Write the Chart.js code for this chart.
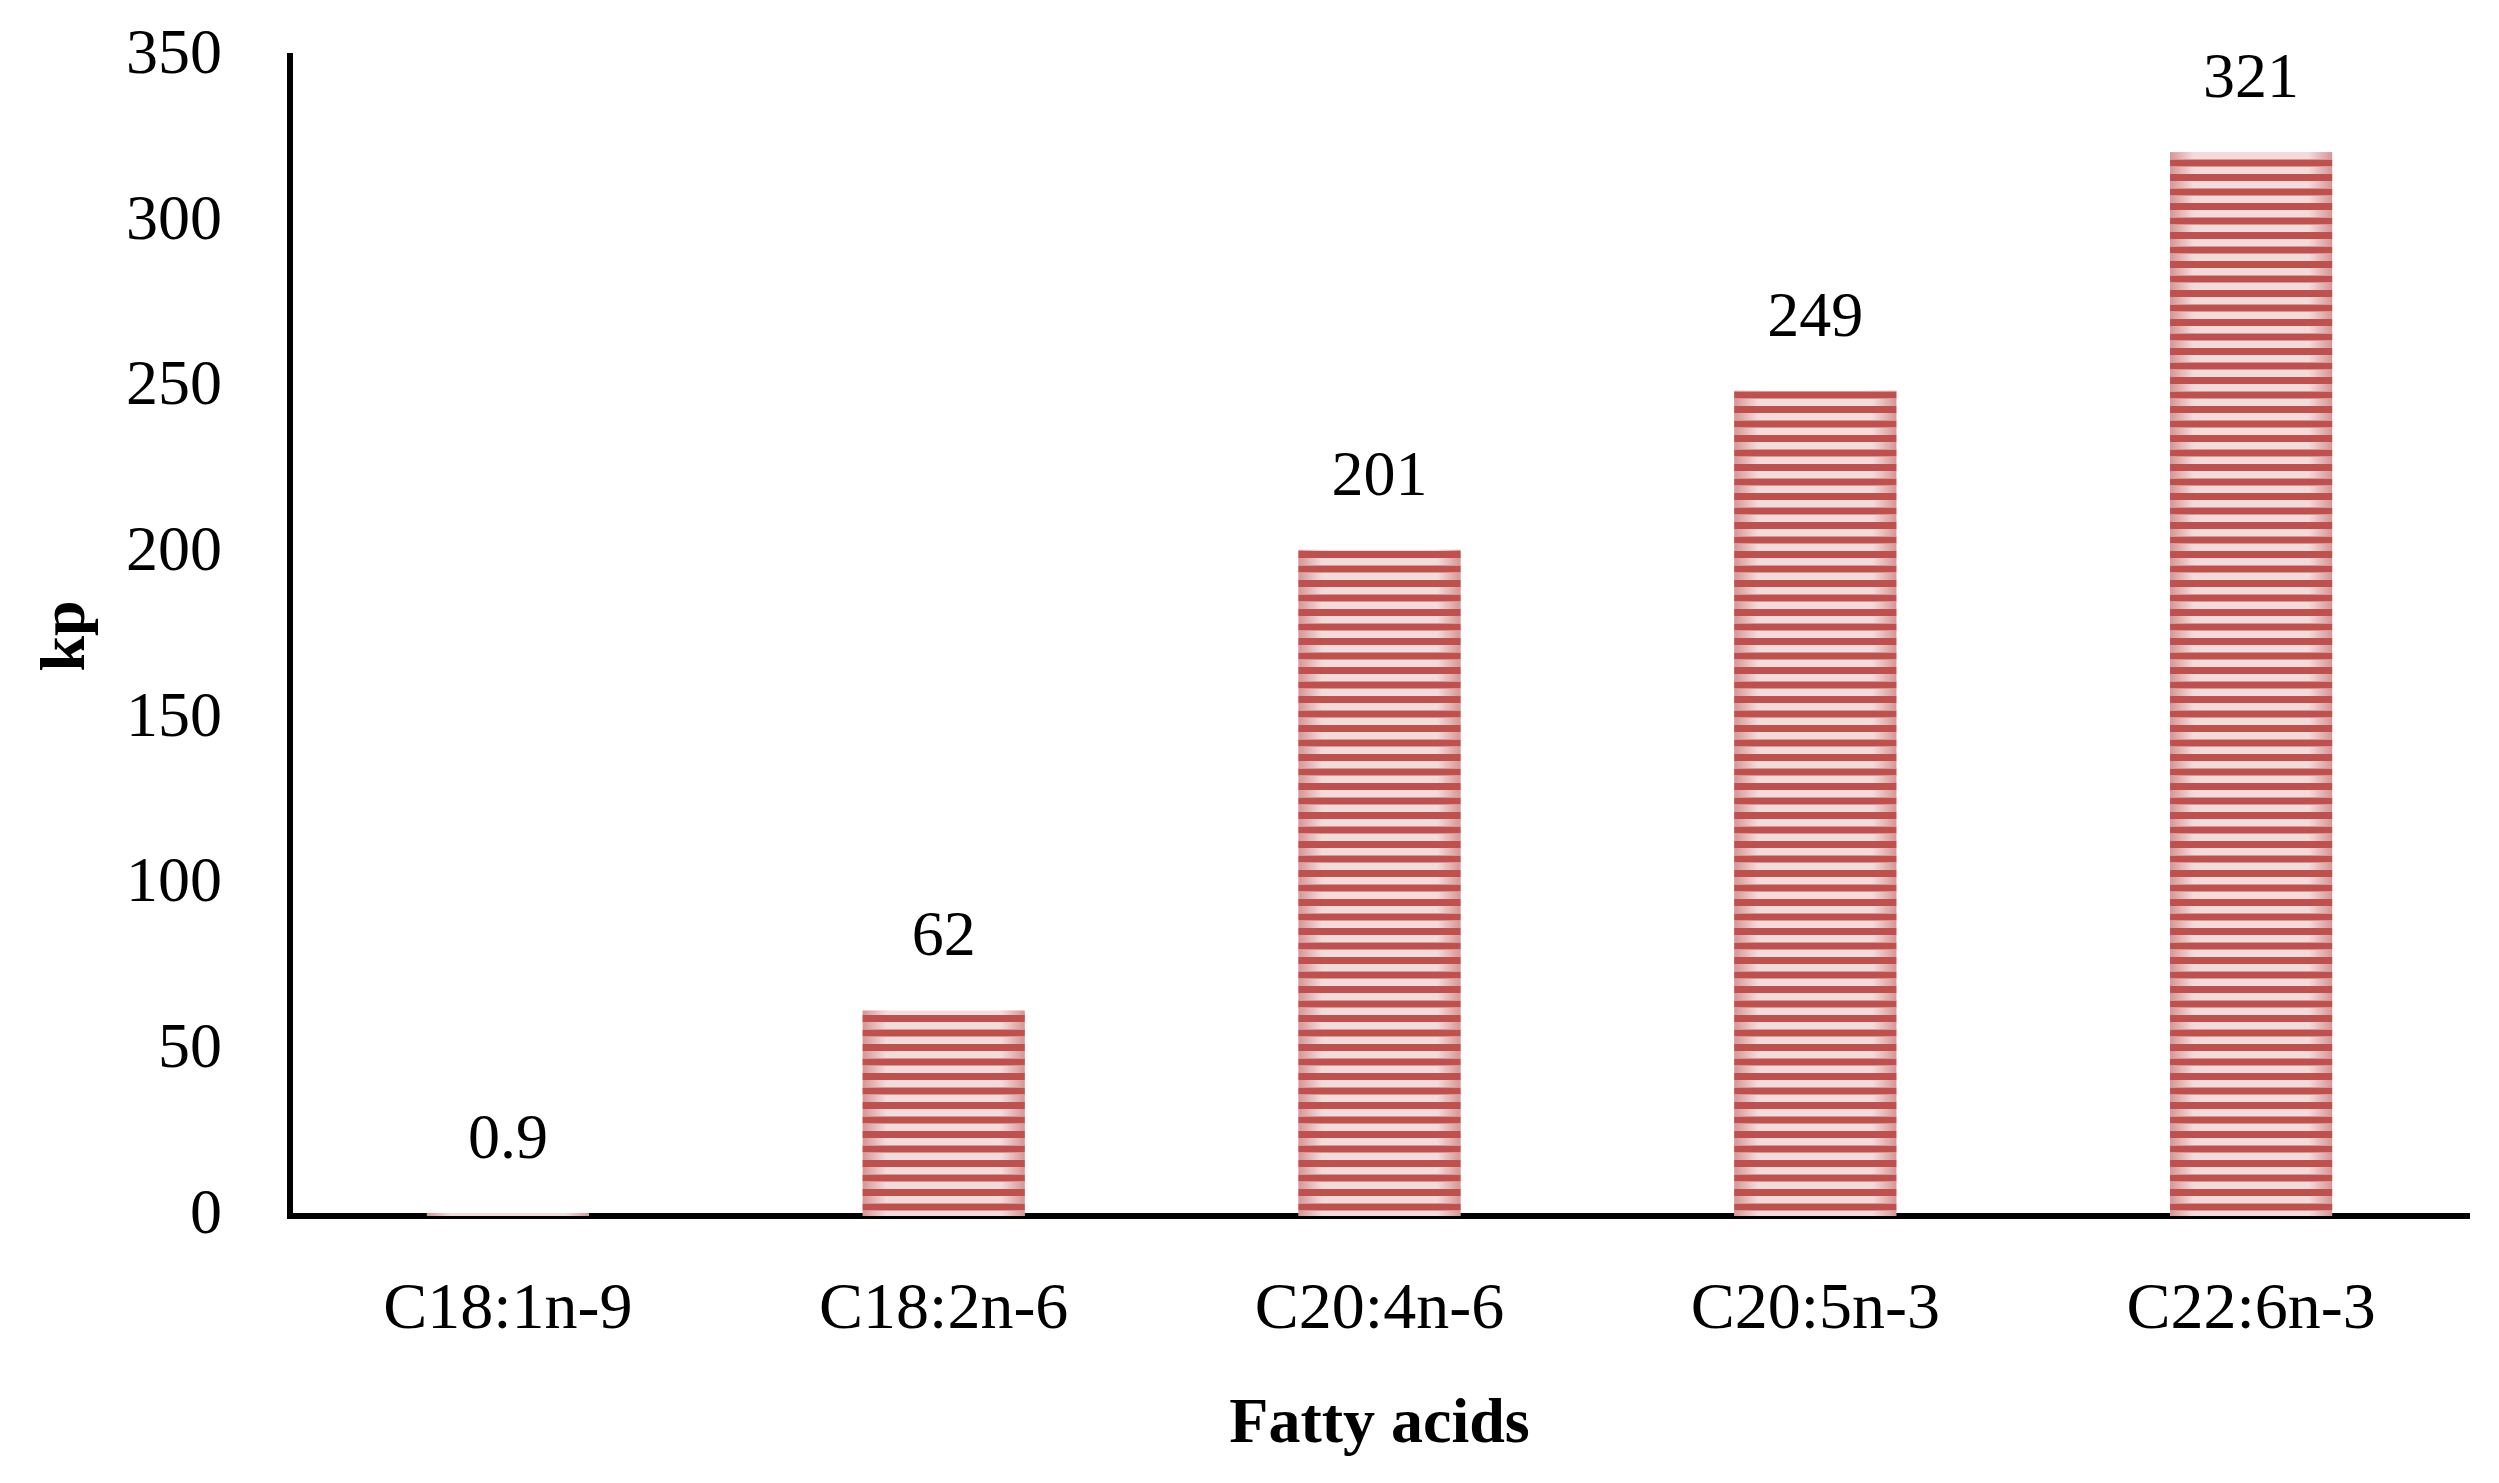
<!DOCTYPE html>
<html>
<head>
<meta charset="utf-8">
<script src="https://cdn.jsdelivr.net/npm/chart.js@4/dist/chart.umd.min.js"></script>
<style>
  html, body { margin: 0; padding: 0; background: #fff; }
  #wrap { width: 2499px; height: 1483px; }
</style>
</head>
<body>
<div id="wrap"><canvas id="chart"></canvas></div>
<script>
const categories = ['C18:1n-9', 'C18:2n-6', 'C20:4n-6', 'C20:5n-3', 'C22:6n-3'];
const kpValues = [0.9, 62, 201, 249, 321];
const valueLabels = ['0.9', '62', '201', '249', '321'];
const yTicks = [0, 50, 100, 150, 200, 250, 300, 350];

const serif = '"Liberation Serif", "DejaVu Serif", serif';

// horizontal stripes: red / light pink
function stripePattern(ctx) {
    const c = document.createElement('canvas');
    c.width = 4;
    c.height = 29;
    const g = c.getContext('2d');
    g.fillStyle = '#f2dcdb';
    g.fillRect(0, 0, 4, 29);
    g.fillStyle = '#c0504d';
    g.fillRect(0, 0, 4, 7);
    g.fillRect(0, 14.5, 4, 7);
    return ctx.createPattern(c, 'repeat');
}

// darker pink edges on each bar, like the original fill
const barShading = {
    id: 'barShading',
    afterDatasetsDraw(chart) {
        const ctx = chart.ctx;
        const meta = chart.getDatasetMeta(0);
        ctx.save();
        ctx.globalCompositeOperation = 'darken';
        meta.data.forEach(bar => {
            const left = bar.x - bar.width / 2;
            const right = bar.x + bar.width / 2;
            const top = Math.min(bar.y, bar.base);
            const h = Math.abs(bar.base - bar.y);
            const grad = ctx.createLinearGradient(left, 0, right, 0);
            grad.addColorStop(0, 'rgb(214,150,150)');
            grad.addColorStop(0.22, 'rgb(255,255,255)');
            grad.addColorStop(0.78, 'rgb(255,255,255)');
            grad.addColorStop(1, 'rgb(214,150,150)');
            ctx.fillStyle = grad;
            ctx.fillRect(left, top, bar.width, h);
        });
        ctx.restore();
    }
};

// value labels above bars
const valueLabelPlugin = {
    id: 'valueLabels',
    afterDatasetsDraw(chart) {
        const ctx = chart.ctx;
        const meta = chart.getDatasetMeta(0);
        ctx.save();
        ctx.font = '64px ' + serif;
        ctx.fillStyle = '#000';
        ctx.textAlign = 'center';
        ctx.textBaseline = 'middle';
        meta.data.forEach((bar, i) => {
            ctx.fillText(valueLabels[i], bar.x, bar.y - 72);
        });
        ctx.restore();
    }
};

const canvas = document.getElementById('chart');
const ctx = canvas.getContext('2d');

new Chart(canvas, {
    type: 'bar',
    data: {
        labels: categories,
        datasets: [{
            label: 'kp',
            data: kpValues,
            backgroundColor: stripePattern(ctx),
            borderWidth: 0,
            categoryPercentage: 1,
            barPercentage: 0.372
        }]
    },
    options: {
        responsive: true,
        maintainAspectRatio: false,
        animation: false,
        devicePixelRatio: 1,
        layout: { padding: { top: 56, right: 30, bottom: 0, left: 0 } },
        plugins: {
            legend: { display: false },
            tooltip: { enabled: false }
        },
        scales: {
            x: {
                grid: { display: false, drawTicks: false },
                border: { display: true, color: '#000', width: 6 },
                ticks: { color: '#000', padding: 55, font: { family: serif, size: 66 } },
                title: {
                    display: true,
                    text: 'Fatty acids',
                    color: '#000',
                    font: { family: serif, size: 64, weight: 'bold' },
                    padding: { top: 0, bottom: 19 }
                },
                afterFit(scale) { scale.height = 267; }
            },
            y: {
                min: 0,
                max: 350,
                grid: { display: false, drawTicks: false },
                border: { display: true, color: '#000', width: 6 },
                afterBuildTicks(scale) {
                    scale.ticks = yTicks.map(v => ({ value: v }));
                },
                ticks: { color: '#000', padding: 68, font: { family: serif, size: 64 } },
                title: {
                    display: true,
                    text: 'kp',
                    color: '#000',
                    font: { family: serif, size: 64, weight: 'bold' },
                    padding: { top: 29, bottom: 0 }
                },
                afterFit(scale) {
                    scale.width = 290;
                    scale.paddingTop = 0;
                    scale.paddingBottom = 0;
                }
            }
        }
    },
    plugins: [barShading, valueLabelPlugin]
});
</script>
</body>
</html>
